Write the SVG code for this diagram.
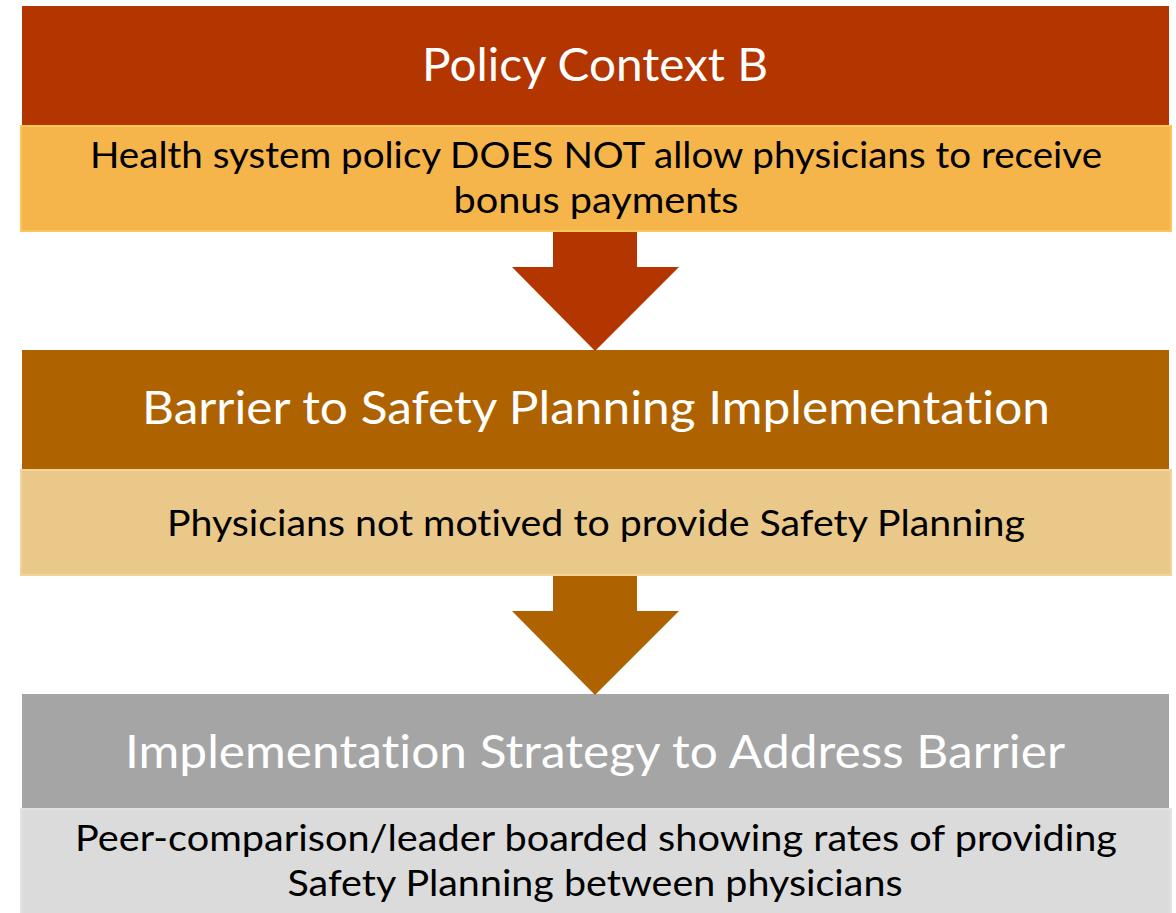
<svg xmlns="http://www.w3.org/2000/svg" width="1176" height="913" viewBox="0 0 1176 913">
<style>
.hd{font-family:Lato,"Open Sans","Liberation Sans",sans-serif;font-size:46px;fill:#ffffff;text-anchor:middle;font-variant-ligatures:none;font-feature-settings:"liga" 0}
.sb{font-family:Lato,"Open Sans","Liberation Sans",sans-serif;font-size:37px;fill:#000000;text-anchor:middle;font-variant-ligatures:none;font-feature-settings:"liga" 0}
</style>
<rect width="1176" height="913" fill="#ffffff"/>
<g id="policy-context">
<rect x="22" y="6" width="1147" height="120" fill="#B33500"/>
<text class="hd" x="595" y="81" textLength="346" lengthAdjust="spacingAndGlyphs">Policy Context B</text>
<rect x="21" y="126" width="1150" height="105" fill="#F5B54B" stroke="#FCC55A" stroke-width="2"/>
<text class="sb" x="596" y="168" textLength="1012" lengthAdjust="spacingAndGlyphs">Health system policy DOES NOT allow physicians to receive</text>
<text class="sb" x="596" y="213" textLength="285" lengthAdjust="spacingAndGlyphs">bonus payments</text>
</g>
<g id="barrier">
<rect x="22" y="350" width="1147" height="120" fill="#AE6200"/>
<text class="hd" x="596" y="424" textLength="908" lengthAdjust="spacingAndGlyphs">Barrier to Safety Planning Implementation</text>
<rect x="21" y="470" width="1150" height="105" fill="#E9C88A" stroke="#F0D49A" stroke-width="2"/>
<text class="sb" x="596" y="536" textLength="858" lengthAdjust="spacingAndGlyphs">Physicians not motived to provide Safety Planning</text>
</g>
<g id="strategy">
<rect x="22" y="694" width="1147" height="115" fill="#A5A5A5"/>
<text class="hd" x="595" y="768" textLength="940" lengthAdjust="spacingAndGlyphs">Implementation Strategy to Address Barrier</text>
<rect x="21" y="809" width="1150" height="110" fill="#DBDBDB" stroke="#E3E3E3" stroke-width="2"/>
<text class="sb" x="596" y="851" textLength="1042" lengthAdjust="spacingAndGlyphs">Peer-comparison/leader boarded showing rates of providing</text>
<text class="sb" x="595" y="896" textLength="615" lengthAdjust="spacingAndGlyphs">Safety Planning between physicians</text>
</g>
<g id="connectors">
<polygon points="553,232 637,232 637,267 679,267 595,351 512,267 553,267" fill="#B33500"/>
<polygon points="553,576 637,576 637,611 679,611 595,695 512,611 553,611" fill="#AE6200"/>
</g>
</svg>
